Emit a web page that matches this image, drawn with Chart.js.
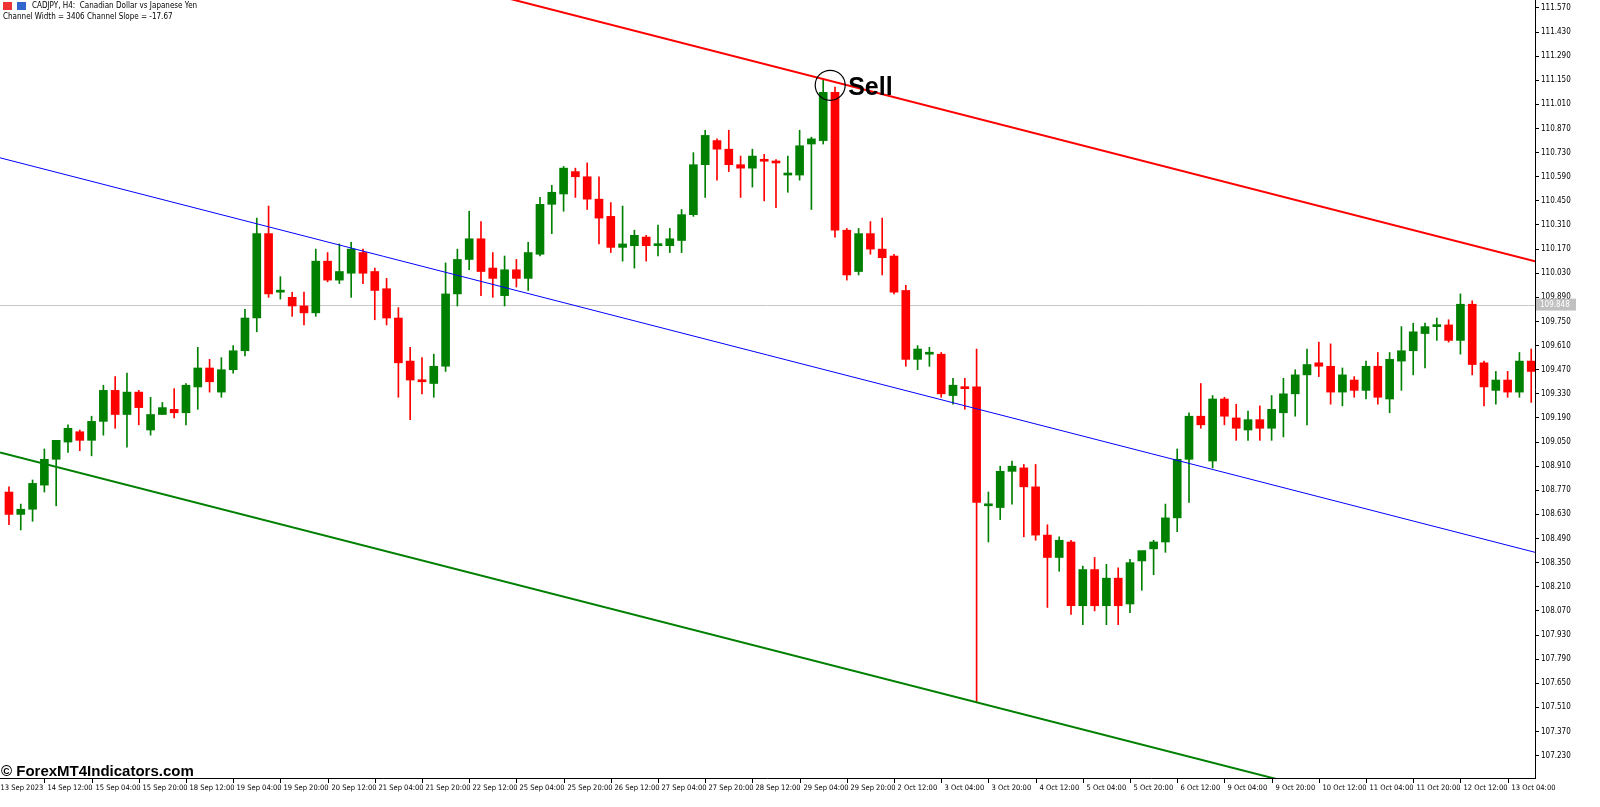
<!DOCTYPE html>
<html><head><meta charset="utf-8">
<script src="https://cdn.jsdelivr.net/npm/chart.js@4/dist/chart.umd.min.js"></script>
<style>html,body{margin:0;padding:0;background:#fff;}#wrap{width:1600px;height:807px;position:relative;}</style>
</head><body><div id="wrap"><canvas id="c" width="1600" height="807"></canvas></div>
<script>
const timeLabels = ["13 Sep 2023","14 Sep 12:00","15 Sep 04:00","15 Sep 20:00","18 Sep 12:00","19 Sep 04:00","19 Sep 20:00","20 Sep 12:00","21 Sep 04:00","21 Sep 20:00","22 Sep 12:00","25 Sep 04:00","25 Sep 20:00","26 Sep 12:00","27 Sep 04:00","27 Sep 20:00","28 Sep 12:00","29 Sep 04:00","29 Sep 20:00","2 Oct 12:00","3 Oct 04:00","3 Oct 20:00","4 Oct 12:00","5 Oct 04:00","5 Oct 20:00","6 Oct 12:00","9 Oct 04:00","9 Oct 20:00","10 Oct 12:00","11 Oct 04:00","11 Oct 20:00","12 Oct 12:00","13 Oct 04:00"];
const priceTicks = [107.230,107.370,107.510,107.650,107.790,107.930,108.070,108.210,108.350,108.490,108.630,108.770,108.910,109.050,109.190,109.330,109.470,109.610,109.750,109.890,110.030,110.170,110.310,110.450,110.590,110.730,110.870,111.010,111.150,111.290,111.430,111.570];
const open = [108.76,108.63,108.66,108.80,108.95,109.05,109.11,109.06,109.17,109.35,109.21,109.34,109.12,109.21,109.24,109.22,109.37,109.48,109.34,109.47,
109.58,109.77,110.26,109.92,109.89,109.84,109.80,110.10,109.99,110.03,
110.15,110.04,109.94,109.77,109.52,109.41,109.39,109.49,109.91,110.11,
110.23,110.06,109.90,110.05,110.00,110.14,110.43,110.49,110.62,110.59,
110.46,110.36,110.18,110.19,110.24,110.19,110.19,110.22,110.37,110.66,
110.80,110.75,110.66,110.64,110.69,110.68,110.60,110.60,110.78,110.80,
111.08,110.28,110.04,110.26,110.17,110.13,109.93,109.53,109.56,109.56,
109.32,109.37,109.37,108.68,108.67,108.88,108.90,108.79,108.51,108.38,
108.47,108.10,108.31,108.10,108.26,108.11,108.36,108.43,108.47,108.61,
108.95,109.20,108.94,109.30,109.19,109.12,109.18,109.13,109.22,109.33,
109.44,109.51,109.49,109.34,109.41,109.35,109.49,109.30,109.52,109.58,
109.68,109.72,109.73,109.64,109.85,109.51,109.35,109.41,109.34,109.52];
const close = [108.63,108.66,108.81,108.95,109.06,109.13,109.06,109.17,109.35,109.21,109.34,109.25,109.21,109.25,109.22,109.38,109.48,109.40,109.47,109.58,
109.77,110.26,109.91,109.93,109.84,109.80,110.10,109.99,110.04,110.17,
110.03,109.93,109.77,109.51,109.41,109.40,109.49,109.91,110.11,110.23,
110.04,110.00,110.05,110.00,110.15,110.43,110.50,110.64,110.59,110.46,
110.35,110.18,110.20,110.25,110.19,110.20,110.23,110.37,110.66,110.83,
110.75,110.66,110.64,110.71,110.68,110.67,110.61,110.77,110.81,111.08,
110.28,110.02,110.26,110.17,110.12,109.92,109.53,109.59,109.57,109.33,
109.38,109.36,108.70,108.69,108.88,108.91,108.79,108.51,108.38,108.48,
108.10,108.31,108.10,108.26,108.10,108.35,108.42,108.47,108.61,108.95,
109.20,109.15,109.30,109.20,109.13,109.18,109.13,109.24,109.33,109.44,
109.50,109.49,109.34,109.44,109.35,109.49,109.31,109.53,109.58,109.69,
109.72,109.73,109.64,109.85,109.50,109.37,109.41,109.34,109.52,109.46];
const high = [108.79,108.69,108.83,109.01,109.06,109.15,109.12,109.20,109.38,109.43,109.45,109.35,109.31,109.28,109.36,109.39,109.60,109.53,109.54,109.61,
109.82,110.35,110.42,110.01,109.92,109.92,110.17,110.15,110.20,110.21,
110.17,110.06,110.00,109.83,109.60,109.54,109.56,110.09,110.17,110.39,
110.33,110.15,110.13,110.11,110.21,110.47,110.54,110.65,110.64,110.67,
110.59,110.44,110.42,110.28,110.25,110.31,110.29,110.40,110.73,110.86,
110.81,110.86,110.71,110.75,110.72,110.69,110.71,110.86,110.82,111.15,
111.11,110.29,110.29,110.33,110.35,110.14,109.96,109.61,109.60,109.57,
109.42,109.42,109.59,108.76,108.91,108.94,108.92,108.92,108.57,108.50,
108.48,108.33,108.38,108.34,108.32,108.37,108.41,108.48,108.69,109.01,
109.22,109.39,109.32,109.31,109.27,109.23,109.26,109.32,109.42,109.47,
109.59,109.63,109.62,109.48,109.43,109.52,109.57,109.57,109.72,109.74,
109.74,109.77,109.76,109.91,109.87,109.52,109.46,109.46,109.57,109.59];
const low = [108.57,108.54,108.59,108.76,108.68,108.99,109.00,108.97,109.09,109.13,109.02,109.15,109.09,109.21,109.19,109.15,109.24,109.34,109.31,109.45,
109.55,109.69,109.89,109.88,109.78,109.73,109.78,109.98,109.97,109.89,
109.97,109.76,109.73,109.31,109.18,109.33,109.31,109.46,109.84,110.05,
109.90,109.89,109.84,109.95,109.93,110.13,110.26,110.39,110.47,110.40,
110.20,110.15,110.10,110.06,110.10,110.13,110.15,110.15,110.36,110.47,
110.57,110.62,110.47,110.53,110.45,110.41,110.50,110.57,110.40,110.78,
110.24,109.99,110.02,110.14,110.02,109.91,109.49,109.47,109.49,109.31,
109.27,109.24,107.54,108.47,108.60,108.69,108.50,108.48,108.09,108.30,
108.05,107.99,108.07,107.99,107.99,108.06,108.19,108.28,108.41,108.53,
108.70,109.13,108.90,109.15,109.06,109.06,109.06,109.06,109.08,109.20,
109.15,109.43,109.27,109.26,109.31,109.30,109.27,109.22,109.35,109.44,
109.48,109.64,109.63,109.56,109.44,109.26,109.27,109.31,109.31,109.28];
const upperChannel = [112.38, 110.10];
const middleChannel = [110.70, 108.41];
const lowerChannel = [108.99, 106.71];
const channelX = [-0.76, 129.32];
const currentPrice = 109.848;
const sellIndex = 69;

const GREEN = '#008000', RED = '#ff0000';
const FONT = '"DejaVu Sans Condensed", "DejaVu Sans", sans-serif';
const col = open.map((o,i)=> close[i] >= o ? GREEN : RED);

const overlay = {
  id:'overlay',
  beforeDatasetsDraw(chart){
    const {ctx, chartArea:a, scales:{y}} = chart;
    const py = Math.round(y.getPixelForValue(currentPrice))+0.5;
    ctx.save(); ctx.strokeStyle='#c8c8c8'; ctx.lineWidth=1;
    ctx.beginPath(); ctx.moveTo(a.left,py); ctx.lineTo(a.right,py); ctx.stroke(); ctx.restore();
  },
  afterDraw(chart){
    const {ctx, chartArea:a, scales:{x,y}} = chart;
    ctx.save();
    ctx.strokeStyle='#000'; ctx.lineWidth=1;
    ctx.beginPath(); ctx.moveTo(0,a.bottom+0.5); ctx.lineTo(a.right+0.5,a.bottom+0.5); ctx.stroke();
    ctx.font='7.5px '+FONT; ctx.fillStyle='#000'; ctx.textBaseline='top';
    timeLabels.forEach((t,k)=>{
      const px = Math.round(x.getPixelForValue(-1+4*k))+0.5;
      ctx.beginPath(); ctx.moveTo(px,a.bottom); ctx.lineTo(px,a.bottom+5); ctx.stroke();
      ctx.fillText(t, px+3, a.bottom+6);
    });
    const py = y.getPixelForValue(currentPrice);
    ctx.font='8px '+FONT;
    ctx.fillStyle='#c0c0c0'; ctx.fillRect(a.right+1, py-6, 40, 12);
    ctx.fillStyle='#fff'; ctx.textBaseline='middle'; ctx.fillText(currentPrice.toFixed(3), a.right+5, py);
    ctx.fillStyle='#e33'; ctx.fillRect(3,2,9,8); ctx.fillStyle='#36c'; ctx.fillRect(17,2,9,8);
    ctx.fillStyle='#000'; ctx.textBaseline='middle';
    ctx.fillText('CADJPY, H4:  Canadian Dollar vs Japanese Yen', 32, 6);
    ctx.fillText('Channel Width = 3406 Channel Slope = -17.67', 3, 17);
    ctx.font='bold 15px "Liberation Sans", Arial, sans-serif'; ctx.textBaseline='alphabetic';
    ctx.fillText('© ForexMT4Indicators.com', 1, 776);
    const sx = x.getPixelForValue(sellIndex), sy = y.getPixelForValue(high[sellIndex]);
    ctx.strokeStyle='#000'; ctx.lineWidth=1.2;
    ctx.beginPath(); ctx.arc(sx+7, sy+5, 15, 0, Math.PI*2); ctx.stroke();
    ctx.font='bold 25px "Liberation Sans", Arial, sans-serif'; ctx.textBaseline='middle';
    ctx.fillText('Sell', sx+25, sy+8);
    ctx.restore();
  }
};

new Chart(document.getElementById('c'), {
  type:'bar',
  data:{datasets:[
    {type:'line', data:channelX.map((v,i)=>({x:v,y:upperChannel[i]})), borderColor:RED, borderWidth:2, pointRadius:0, order:0},
    {type:'line', data:channelX.map((v,i)=>({x:v,y:middleChannel[i]})), borderColor:'#0000ff', borderWidth:1, pointRadius:0, order:0},
    {type:'line', data:channelX.map((v,i)=>({x:v,y:lowerChannel[i]})), borderColor:GREEN, borderWidth:2, pointRadius:0, order:0},
    {data:open.map((o,i)=>({x:i,y:[low[i],high[i]]})), backgroundColor:col, barThickness:1, grouped:false, order:3},
    {data:open.map((o,i)=>({x:i,y:[o,close[i]]})), backgroundColor:col, barThickness:8, minBarLength:2, grouped:false, order:2}
  ]},
  options:{
    responsive:false, animation:false, devicePixelRatio:1,
    layout:{padding:{left:0,top:0,right:0,bottom:29}},
    plugins:{legend:{display:false}, tooltip:{enabled:false}},
    scales:{
      x:{type:'linear', min:-0.76, max:129.32, display:false, offset:false},
      y:{position:'right', min:107.10, max:111.616,
        afterBuildTicks(s){ s.ticks = priceTicks.map(v=>({value:v})); },
        afterFit(s){ s.width = 65; s.paddingTop = 0; s.paddingBottom = 0; },
        border:{color:'#000', width:1},
        grid:{drawOnChartArea:false, color:'#000', tickLength:4},
        ticks:{color:'#000', padding:2, font:{size:8, family:FONT}, callback:v=>v.toFixed(3)}
      }
    }
  },
  plugins:[overlay]
});
</script></body></html>
